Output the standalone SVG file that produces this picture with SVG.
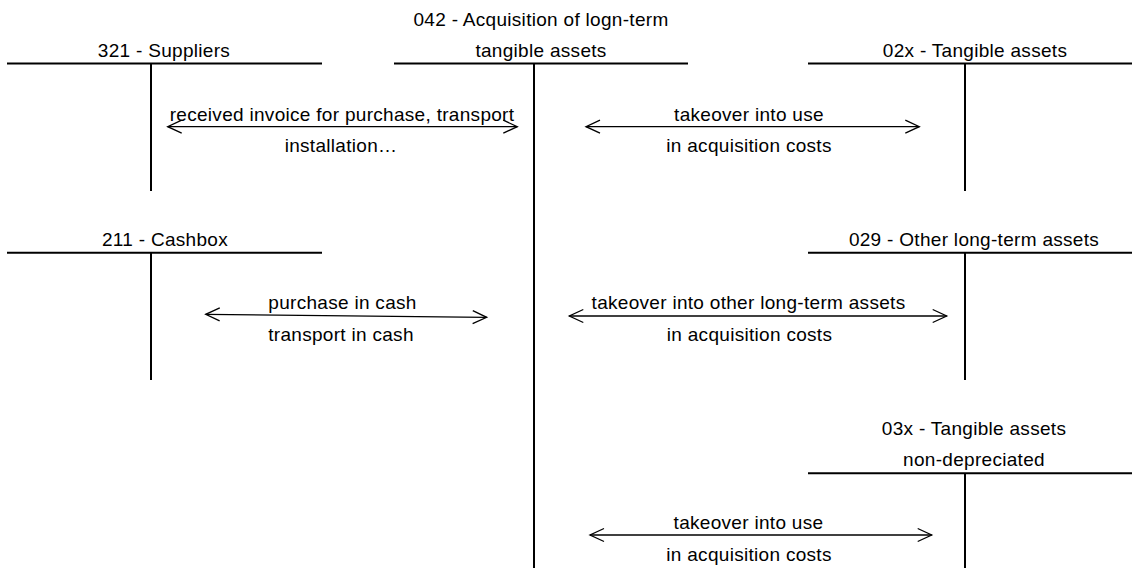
<svg xmlns="http://www.w3.org/2000/svg" width="1132" height="568" viewBox="0 0 1132 568">
  <style>
    text { font-family: "Liberation Sans", Arial, sans-serif; font-size: 19px; letter-spacing: 0.3px; fill: #000; text-anchor: middle; }
    .bar { stroke: #000; stroke-width: 2; fill: none; }
    .flow { stroke: #000; stroke-width: 1.3; fill: none; marker-start: url(#chev); marker-end: url(#chev); }
  </style>
  <defs>
    <marker id="chev" markerUnits="userSpaceOnUse" markerWidth="30" markerHeight="30" refX="0" refY="0" orient="auto-start-reverse" overflow="visible">
      <path d="M-14,-6.5 L0,0 L-14,6.5" fill="none" stroke="#000" stroke-width="1.3"/>
    </marker>
  </defs>

  <rect width="1132" height="568" fill="#fff"/>

  <!-- T-accounts -->
  <g id="acc-321">
    <line class="bar" x1="7" y1="63.5" x2="322" y2="63.5"/>
    <line class="bar" x1="151" y1="63.5" x2="151" y2="191"/>
    <text x="164" y="57">321 - Suppliers</text>
  </g>

  <g id="acc-042">
    <line class="bar" x1="394" y1="63.5" x2="688" y2="63.5"/>
    <line class="bar" x1="534" y1="63.5" x2="534" y2="568"/>
    <text x="541" y="26">042 - Acquisition of logn-term</text>
    <text x="541" y="57">tangible assets</text>
  </g>

  <g id="acc-02x">
    <line class="bar" x1="808" y1="63.5" x2="1132" y2="63.5"/>
    <line class="bar" x1="965" y1="63.5" x2="965" y2="191"/>
    <text x="975" y="57">02x - Tangible assets</text>
  </g>

  <g id="acc-211">
    <line class="bar" x1="7" y1="252.7" x2="322" y2="252.7"/>
    <line class="bar" x1="151" y1="252.7" x2="151" y2="380"/>
    <text x="165" y="246">211 - Cashbox</text>
  </g>

  <g id="acc-029">
    <line class="bar" x1="808" y1="252.7" x2="1132" y2="252.7"/>
    <line class="bar" x1="965" y1="252.7" x2="965" y2="380"/>
    <text x="974" y="246">029 - Other long-term assets</text>
  </g>

  <g id="acc-03x">
    <line class="bar" x1="808" y1="473.3" x2="1132" y2="473.3"/>
    <line class="bar" x1="965" y1="473.3" x2="965" y2="568"/>
    <text x="974" y="435">03x - Tangible assets</text>
    <text x="974" y="466">non-depreciated</text>
  </g>

  <!-- Postings between accounts -->
  <g id="connectors">
    <line class="flow" x1="167.7" y1="126.7" x2="517.3" y2="126.7"/>
    <text x="342" y="120.7">received invoice for purchase, transport</text>
    <text x="341" y="151.5">installation…</text>

    <line class="flow" x1="586" y1="126.7" x2="919.3" y2="126.7"/>
    <text x="749" y="120.7">takeover into use</text>
    <text x="749" y="151.5">in acquisition costs</text>

    <line class="flow" x1="205.7" y1="314.3" x2="486.7" y2="317.3"/>
    <text x="342.5" y="309.3">purchase in cash</text>
    <text x="341" y="340.5">transport in cash</text>

    <line class="flow" x1="569.3" y1="316" x2="946.7" y2="316"/>
    <text x="748.5" y="309.3">takeover into other long-term assets</text>
    <text x="749.5" y="340.5">in acquisition costs</text>

    <line class="flow" x1="590" y1="535" x2="931.7" y2="535"/>
    <text x="748.5" y="529.3">takeover into use</text>
    <text x="749" y="561">in acquisition costs</text>
  </g>
</svg>
